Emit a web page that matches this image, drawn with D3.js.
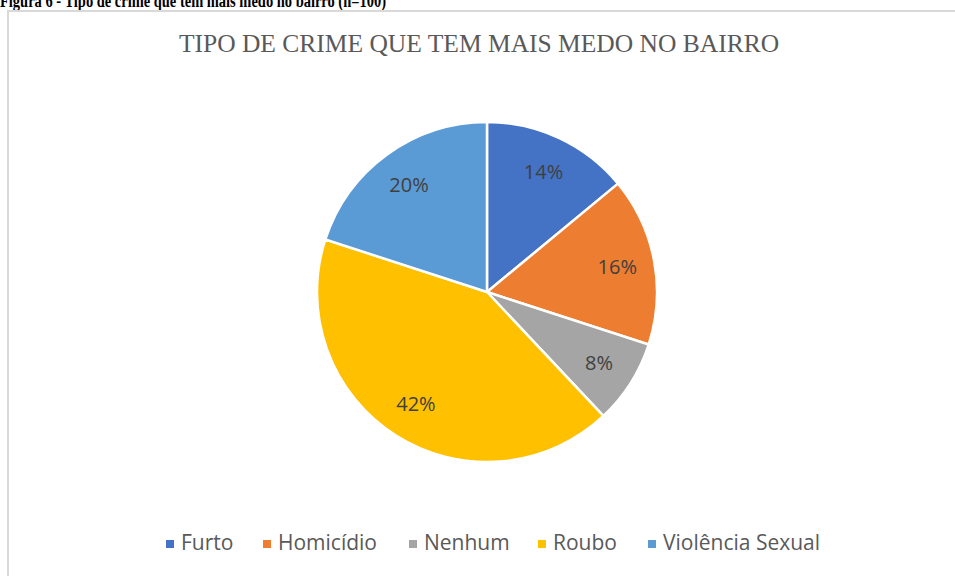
<!DOCTYPE html>
<html>
<head>
<meta charset="utf-8">
<script src="https://cdn.jsdelivr.net/npm/d3@7"></script>
<style>
  body { margin: 0; background: #fff; }
  svg { display: block; }
</style>
</head>
<body>
<div id="chart"></div>
<script>
  var categories = ["Furto", "Homicídio", "Nenhum", "Roubo", "Violência Sexual"];
  var values = [14, 16, 8, 42, 20];
  var colors = ["#4472c4", "#ed7d31", "#a5a5a5", "#ffc000", "#5b9bd5"];
  var legendX = [166, 263, 409, 538, 648];

  var width = 955,
      height = 576;

  var svg = d3.select("#chart").append("svg")
      .attr("width", width)
      .attr("height", height);

  // caption of the figure, cut by the top of the picture as in the original
  svg.append("text")
      .attr("x", 0)
      .attr("y", 7)
      .attr("font-family", "'Liberation Serif', serif")
      .attr("font-weight", "bold")
      .attr("font-size", 19)
      .attr("textLength", 386)
      .attr("lengthAdjust", "spacingAndGlyphs")
      .attr("fill", "#000")
      .text("Figura 6 - Tipo de crime que tem mais medo no bairro (n=100)");

  // chart frame
  svg.append("rect")
      .attr("x", 8)
      .attr("y", 11)
      .attr("width", 960)
      .attr("height", 600)
      .attr("fill", "#fff")
      .attr("stroke", "#d9d9d9")
      .attr("stroke-width", 2);

  svg.append("text")
      .attr("x", 479)
      .attr("y", 52)
      .attr("text-anchor", "middle")
      .attr("font-family", "'Liberation Serif', serif")
      .attr("font-size", 25.5)
      .attr("fill", "#595959")
      .text("TIPO DE CRIME QUE TEM MAIS MEDO NO BAIRRO");

  var cx = 487, cy = 292, radius = 170;

  var color = d3.scaleOrdinal()
      .domain(categories)
      .range(colors);

  var pie = d3.pie().sort(null).value(function(d) { return d.value; });
  var arc = d3.arc().innerRadius(0).outerRadius(radius);
  var labelArc = d3.arc().innerRadius(radius * 0.78).outerRadius(radius * 0.78);

  var data = categories.map(function(c, i) { return { name: c, value: values[i] }; });
  var total = d3.sum(values);

  var g = svg.append("g")
      .attr("transform", "translate(" + cx + "," + cy + ")");

  g.selectAll("path")
      .data(pie(data))
    .enter().append("path")
      .attr("d", arc)
      .attr("fill", function(d) { return color(d.data.name); })
      .attr("stroke", "#fff")
      .attr("stroke-width", 2.5);

  g.selectAll("text")
      .data(pie(data))
    .enter().append("text")
      .attr("transform", function(d) { return "translate(" + labelArc.centroid(d) + ")"; })
      .attr("text-anchor", "middle")
      .attr("dy", "0.35em")
      .attr("font-family", "'Open Sans', sans-serif")
      .attr("font-size", 20)
      .attr("fill", "#404040")
      .text(function(d) { return Math.round(d.data.value / total * 100) + "%"; });

  var legend = svg.append("g")
      .selectAll("g")
      .data(categories)
    .enter().append("g")
      .attr("transform", function(d, i) { return "translate(" + legendX[i] + ",544)"; });

  legend.append("rect")
      .attr("x", 0)
      .attr("y", -4)
      .attr("width", 8)
      .attr("height", 8)
      .attr("fill", function(d) { return color(d); });

  legend.append("text")
      .attr("x", 15)
      .attr("y", 6)
      .attr("font-family", "'Open Sans', sans-serif")
      .attr("font-size", 21)
      .attr("fill", "#595959")
      .text(function(d) { return d; });
</script>
</body>
</html>
